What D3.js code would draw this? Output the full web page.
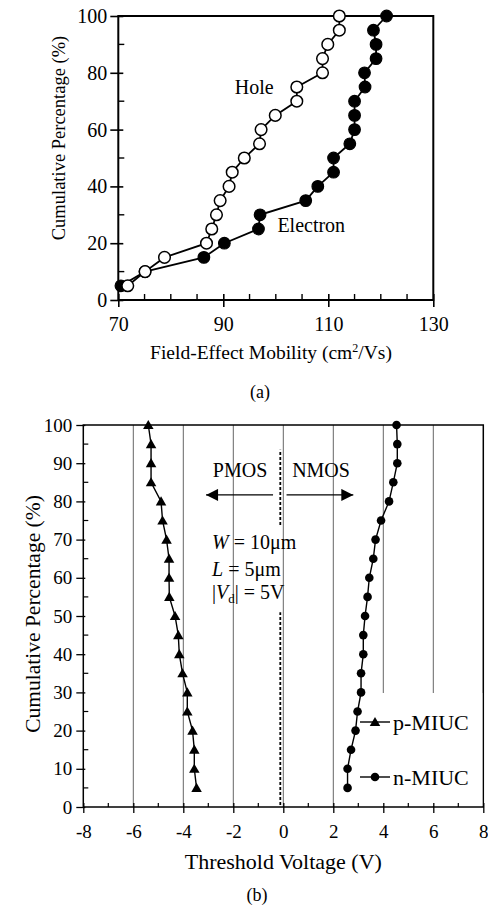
<!DOCTYPE html>
<html><head><meta charset="utf-8">
<script src="https://cdn.jsdelivr.net/npm/d3@7"></script>
<style>
body{margin:0;background:#fff}
svg{display:block}
text{font-family:"Liberation Serif","Times New Roman",serif;fill:#000}
</style>
</head><body><svg id="c" width="488" height="917"></svg>
<script>
// ---------- data: panel (a) ----------
const cumPctA = [5,10,15,20,25,30,35,40,45,50,55,60,65,70,75,80,85,90,95,100];
const holeMobility = [71.8,75.1,78.8,86.8,87.8,88.7,89.4,91.1,91.7,94.0,96.9,97.2,99.9,104.0,104.0,108.9,108.9,109.9,112.1,112.1];
const electronMobility = [70.5,75.1,86.3,90.2,96.7,97.0,105.7,108.0,111.0,111.0,114.1,115.0,115.0,115.0,117.0,116.9,119.1,119.1,118.6,121.1];
const mobilityTicks = [70,90,110,130];
const mobilityMinor = [75,80,85,95,100,105,115,120,125];
const pctTicksA = [0,20,40,60,80,100];
const pctMinorA = [10,30,50,70,90];

// ---------- data: panel (b) ----------
const cumPctB = [5,10,15,20,25,30,35,40,45,50,55,60,65,70,75,80,85,90,95,100];
const pMIUC = [-3.47,-3.56,-3.56,-3.63,-3.84,-3.84,-4.03,-4.16,-4.20,-4.33,-4.56,-4.57,-4.57,-4.67,-4.83,-4.89,-5.29,-5.29,-5.29,-5.40];
const nMIUC = [2.57,2.57,2.71,2.89,2.97,3.11,3.11,3.20,3.20,3.27,3.37,3.44,3.60,3.69,3.91,4.23,4.40,4.56,4.56,4.53];
const voltTicks = [-8,-6,-4,-2,0,2,4,6,8];
const voltMinor = [-7,-5,-3,-1,1,3,5,7];
const voltGrid = [-6,-4,-2,0,2,4,6];
const pctTicksB = [0,10,20,30,40,50,60,70,80,90,100];
const pctMinorB = [5,15,25,35,45,55,65,75,85,95];

const svg = d3.select("#c");
const plain = d => String(d);

// ================= Panel (a) =================
const xA = d3.scaleLinear().domain([70,130]).range([118.3,433.3]);
const yA = d3.scaleLinear().domain([0,100]).range([300,16]);
const gA = svg.append("g");

gA.append("rect").attr("x",xA(70)).attr("y",yA(100))
  .attr("width",xA(130)-xA(70)).attr("height",yA(0)-yA(100))
  .attr("fill","none").attr("stroke","#000").attr("stroke-width",2);

const axA = gA.append("g").attr("transform",`translate(0,${yA(0)})`)
  .call(d3.axisBottom(xA).tickValues(mobilityTicks).tickFormat(plain).tickSize(7).tickPadding(10));
axA.select(".domain").remove();
axA.selectAll(".tick line").attr("y1",-6).attr("stroke-width",1.6);
axA.selectAll(".tick text").style("font-size","20px");
gA.selectAll(".mxA").data(mobilityMinor).enter().append("line")
  .attr("x1",d=>xA(d)).attr("x2",d=>xA(d)).attr("y1",yA(0)).attr("y2",yA(0)-6)
  .attr("stroke","#000").attr("stroke-width",1.4);

const ayA = gA.append("g").attr("transform",`translate(${xA(70)},0)`)
  .call(d3.axisLeft(yA).tickValues(pctTicksA).tickFormat(plain).tickSize(8).tickPadding(3));
ayA.select(".domain").remove();
ayA.selectAll(".tick line").attr("x1",5).attr("stroke-width",1.6);
ayA.selectAll(".tick text").style("font-size","20px");
gA.selectAll(".myA").data(pctMinorA).enter().append("line")
  .attr("x1",xA(70)).attr("x2",xA(70)+6).attr("y1",d=>yA(d)).attr("y2",d=>yA(d))
  .attr("stroke","#000").attr("stroke-width",1.4);

gA.append("text").attr("transform","translate(59,138) rotate(-90)")
  .attr("text-anchor","middle").attr("dominant-baseline","central")
  .style("font-size","18.5px").text("Cumulative Percentage (%)");
const tA = gA.append("text").attr("x",271).attr("y",359).attr("text-anchor","middle").style("font-size","19.5px");
tA.append("tspan").text("Field-Effect Mobility (cm");
tA.append("tspan").attr("dy",-7).style("font-size","12px").text("2");
tA.append("tspan").attr("dy",7).text("/Vs)");
gA.append("text").attr("x",260).attr("y",398).attr("text-anchor","middle").style("font-size","18px").text("(a)");

const lineA = (vals) => d3.line().x((d,i)=>xA(vals[i])).y((d,i)=>yA(cumPctA[i]))(cumPctA);
gA.append("path").attr("d",lineA(electronMobility)).attr("fill","none").attr("stroke","#000").attr("stroke-width",1.8);
gA.append("path").attr("d",lineA(holeMobility)).attr("fill","none").attr("stroke","#000").attr("stroke-width",1.8);
gA.selectAll(".eA").data(cumPctA).enter().append("circle")
  .attr("cx",(d,i)=>xA(electronMobility[i])).attr("cy",d=>yA(d)).attr("r",5.8)
  .attr("fill","#000").attr("stroke","#000").attr("stroke-width",1.2);
gA.selectAll(".hA").data(cumPctA).enter().append("circle")
  .attr("cx",(d,i)=>xA(holeMobility[i])).attr("cy",d=>yA(d)).attr("r",5.8)
  .attr("fill","#fff").attr("stroke","#000").attr("stroke-width",1.5);

gA.append("text").attr("x",xA(92.2)).attr("y",yA(75)).attr("dominant-baseline","central").style("font-size","20px").text("Hole");
gA.append("text").attr("x",xA(100.3)).attr("y",yA(26.4)).attr("dominant-baseline","central").style("font-size","20px").text("Electron");

// ================= Panel (b) =================
const xB = d3.scaleLinear().domain([-8,8]).range([83.3,483.3]);
const yB = d3.scaleLinear().domain([0,100]).range([807,425]);
const gB = svg.append("g");

gB.selectAll(".grid").data(voltGrid).enter().append("line")
  .attr("x1",d=>xB(d)).attr("x2",d=>xB(d)).attr("y1",yB(100)).attr("y2",yB(0))
  .attr("stroke","#555").attr("stroke-width",0.9);

const dividerSpans = [[73.8,93.5],[0.5,51]];
gB.selectAll(".div").data(dividerSpans).enter().append("line")
  .attr("x1",xB(-0.12)).attr("x2",xB(-0.12)).attr("y1",d=>yB(d[0])).attr("y2",d=>yB(d[1]))
  .attr("stroke","#000").attr("stroke-width",1.8).attr("stroke-dasharray","3,2");

gB.append("rect").attr("x",xB(-8)).attr("y",yB(100))
  .attr("width",xB(8)-xB(-8)).attr("height",yB(0)-yB(100))
  .attr("fill","none").attr("stroke","#000").attr("stroke-width",1.5);

gB.append("rect").attr("x",357).attr("y",693).attr("width",xB(8)-357-1).attr("height",yB(0)-693-1).attr("fill","#fff");

const axB = gB.append("g").attr("transform",`translate(0,${yB(0)})`)
  .call(d3.axisBottom(xB).tickValues(voltTicks).tickFormat(plain).tickSize(6).tickPadding(12));
axB.select(".domain").remove();
axB.selectAll(".tick line").attr("y1",-4).attr("stroke-width",1.3);
axB.selectAll(".tick text").style("font-size","19px");
gB.selectAll(".mxB").data(voltMinor).enter().append("line")
  .attr("x1",d=>xB(d)).attr("x2",d=>xB(d)).attr("y1",yB(0)).attr("y2",yB(0)-4)
  .attr("stroke","#000").attr("stroke-width",1.2);

const ayB = gB.append("g").attr("transform",`translate(${xB(-8)},0)`)
  .call(d3.axisLeft(yB).tickValues(pctTicksB).tickFormat(plain).tickSize(7).tickPadding(4));
ayB.select(".domain").remove();
ayB.selectAll(".tick line").attr("x1",2).attr("stroke-width",1.3);
ayB.selectAll(".tick text").style("font-size","19px");
gB.selectAll(".myB").data(pctMinorB).enter().append("line")
  .attr("x1",xB(-8)).attr("x2",xB(-8)+5).attr("y1",d=>yB(d)).attr("y2",d=>yB(d))
  .attr("stroke","#000").attr("stroke-width",1.2);

gB.append("text").attr("transform","translate(33,614) rotate(-90)")
  .attr("text-anchor","middle").attr("dominant-baseline","central")
  .style("font-size","21.5px").text("Cumulative Percentage (%)");
gB.append("text").attr("x",xB(0)).attr("y",869).attr("text-anchor","middle").style("font-size","22px").text("Threshold Voltage (V)");
gB.append("text").attr("x",257).attr("y",901).attr("text-anchor","middle").style("font-size","18px").text("(b)");

const arrowDefs = svg.append("defs");
arrowDefs.append("marker").attr("id","ah").attr("viewBox","0 0 10 10").attr("refX",10).attr("refY",5)
  .attr("markerWidth",13).attr("markerHeight",12).attr("markerUnits","userSpaceOnUse").attr("orient","auto")
  .append("path").attr("d","M0,0L10,5L0,10Z").attr("fill","#000");
const arrows = [[-0.41,-3.09],[0.13,2.8]];
gB.selectAll(".arr").data(arrows).enter().append("line")
  .attr("x1",d=>xB(d[0])).attr("x2",d=>xB(d[1])).attr("y1",yB(81.7)).attr("y2",yB(81.7))
  .attr("stroke","#000").attr("stroke-width",1.4).attr("marker-end","url(#ah)");
gB.append("text").attr("x",xB(-1.73)).attr("y",yB(88.2)).attr("text-anchor","middle").attr("dominant-baseline","central").style("font-size","20px").text("PMOS");
gB.append("text").attr("x",xB(1.51)).attr("y",yB(88.2)).attr("text-anchor","middle").attr("dominant-baseline","central").style("font-size","20px").text("NMOS");
const t1 = gB.append("text").attr("x",xB(-2.85)).attr("y",yB(69.5)).attr("dominant-baseline","central").style("font-size","20px");
t1.append("tspan").style("font-style","italic").text("W");
t1.append("tspan").text(" = 10\u03bcm");
const t2 = gB.append("text").attr("x",xB(-2.85)).attr("y",yB(62.3)).attr("dominant-baseline","central").style("font-size","20px");
t2.append("tspan").style("font-style","italic").text("L");
t2.append("tspan").text(" = 5\u03bcm");
const t3 = gB.append("text").attr("x",xB(-2.85)).attr("y",yB(56.3)+7).style("font-size","20px");
t3.append("tspan").text("|");
t3.append("tspan").style("font-style","italic").text("V");
t3.append("tspan").attr("dy",4).style("font-size","13px").text("d");
t3.append("tspan").attr("dy",-4).text("| = 5V");

const lineB = (vals) => d3.line().x((d,i)=>xB(vals[i])).y((d,i)=>yB(cumPctB[i]))(cumPctB);
gB.append("path").attr("d",lineB(pMIUC)).attr("fill","none").attr("stroke","#000").attr("stroke-width",1.4);
gB.append("path").attr("d",lineB(nMIUC)).attr("fill","none").attr("stroke","#000").attr("stroke-width",1.4);
const tri = d3.symbol().type(d3.symbolTriangle).size(48);
gB.selectAll(".pB").data(cumPctB).enter().append("path")
  .attr("d",tri).attr("transform",(d,i)=>`translate(${xB(pMIUC[i])},${yB(d)+1})`).attr("fill","#000");
gB.selectAll(".nB").data(cumPctB).enter().append("circle")
  .attr("cx",(d,i)=>xB(nMIUC[i])).attr("cy",d=>yB(d)).attr("r",4.3).attr("fill","#000");

const leg = [{label:"p-MIUC",y:722,sym:"tri"},{label:"n-MIUC",y:777,sym:"circ"}];
leg.forEach(l=>{
  gB.append("line").attr("x1",360).attr("x2",390).attr("y1",l.y).attr("y2",l.y).attr("stroke","#000").attr("stroke-width",1.4);
  if(l.sym==="tri") gB.append("path").attr("d",tri).attr("transform",`translate(375,${l.y+1})`).attr("fill","#000");
  else gB.append("circle").attr("cx",375).attr("cy",l.y).attr("r",4.3).attr("fill","#000");
  gB.append("text").attr("x",393).attr("y",l.y).attr("dominant-baseline","central").style("font-size","22px").text(l.label);
});
</script>
</body></html>
